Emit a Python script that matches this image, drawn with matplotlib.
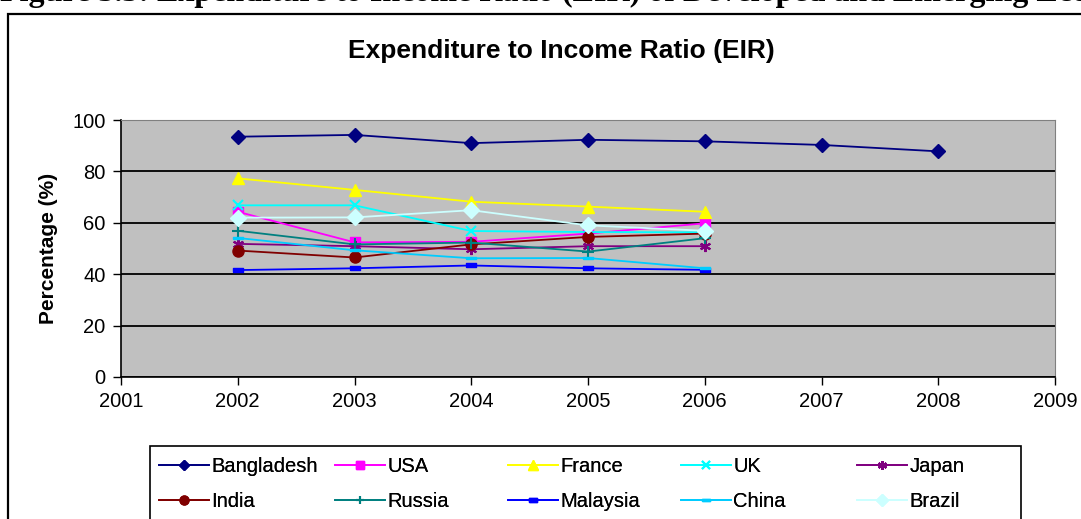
import matplotlib
matplotlib.use("Agg")
import matplotlib.pyplot as plt
from matplotlib.patches import Rectangle
from matplotlib.transforms import Bbox

plt.rcParams['font.family'] = ['Liberation Sans', 'DejaVu Sans']

# Years and country series (percentage of expenditure to income)
years_long = [2002, 2003, 2004, 2005, 2006, 2007, 2008]
years = [2002, 2003, 2004, 2005, 2006]

bangladesh = [93.5, 94.2, 91.0, 92.3, 91.7, 90.3, 87.8]
usa = [64.3, 52.4, 52.6, 55.8, 59.8]
france = [77.3, 72.8, 68.2, 66.3, 64.3]
uk = [66.8, 66.8, 56.8, 56.4, 56.3]
japan = [51.8, 50.9, 49.7, 50.9, 50.9]
india = [49.2, 46.5, 51.6, 54.5, 55.8]
russia = [56.9, 51.6, 52.3, 48.8, 54.0]
malaysia = [41.6, 42.3, 43.4, 42.3, 41.7]
china = [54.1, 49.3, 46.2, 46.3, 42.3]
brazil = [62.0, 62.1, 64.9, 59.0, 56.9]

x_ticks = [2001, 2002, 2003, 2004, 2005, 2006, 2007, 2008, 2009]
y_ticks = [0, 20, 40, 60, 80, 100]

short_dash = [(-1, -0.4), (1, -0.4), (1, 0.4), (-1, 0.4), (-1, -0.4)]
long_dash = [(-1.6, -0.4), (1.6, -0.4), (1.6, 0.4), (-1.6, 0.4), (-1.6, -0.4)]

series = [
    ("Bangladesh", years_long, bangladesh, "#000080", "D", 7, None),
    ("USA", years, usa, "#FF00FF", "s", 7, None),
    ("France", years, france, "#FFFF00", "^", 9, None),
    ("UK", years, uk, "#00FFFF", "x", 7, 1.5),
    ("Japan", years, japan, "#800080", (6, 2, 0), 8, 1.5),
    ("India", years, india, "#800000", "o", 8, None),
    ("Russia", years, russia, "#008080", "+", 8, 1.5),
    ("Malaysia", years, malaysia, "#0000FF", short_dash, 7, None),
    ("China", years, china, "#00CCFF", long_dash, 7, None),
    ("Brazil", years, brazil, "#CCFFFF", "D", 8, None),
]

W, H = 1081, 519
fig = plt.figure(figsize=(W / 100, H / 100), dpi=100)
fig.patch.set_facecolor("white")

# chart frame
fig.patches.append(Rectangle((8 / W, -0.05), 1.1, (H - 14) / H + 0.05,
                             transform=fig.transFigure, fill=False,
                             edgecolor="black", linewidth=1.6, clip_on=False))

# caption above the chart: only the lowest strip of it falls on the page
caption = fig.text(0.0, (H - 1.5) / H,
                   "Figure 3.3: Expenditure to Income Ratio (EIR) of Developed and Emerging Economies",
                   ha="left", va="baseline", fontsize=23, fontweight="bold",
                   family=["Liberation Serif", "DejaVu Serif"])
caption.set_clip_box(Bbox.from_extents(0, H - 9, W, H))
caption.set_clip_on(True)

ax = fig.add_axes([121 / W, (H - 377) / H, (1055 - 121) / W, (377 - 120) / H])
ax.set_facecolor("#C0C0C0")

handles = []
for name, xs, ys, color, marker, ms, mew in series:
    kw = dict(color=color, linewidth=1.3, marker=marker, markersize=ms,
              markerfacecolor=color, markeredgecolor=color, label=name)
    if mew is not None:
        kw["markeredgewidth"] = mew
    line, = ax.plot(xs, ys, **kw)
    handles.append(line)

ax.set_xlim(2001, 2009)
ax.set_ylim(0, 100)
ax.set_xticks(x_ticks)
ax.set_yticks(y_ticks)
ax.yaxis.grid(True, color="black", linewidth=1.3)
ax.set_axisbelow(True)
ax.tick_params(axis="both", labelsize=14.5, direction="out", length=6,
               width=1, colors="black", pad=5)
for side in ("top", "right"):
    ax.spines[side].set_color("#808080")
for side in ("left", "bottom"):
    ax.spines[side].set_color("black")
    ax.spines[side].set_linewidth(1.2)

ax.set_ylabel("Percentage (%)", fontsize=15, fontweight="bold", labelpad=10)
fig.text(561 / W, (H - 51) / H, "Expenditure to Income Ratio (EIR)", ha="center",
         va="center", fontsize=19, fontweight="bold")

# legend box with five evenly spaced columns, filled row by row
fig.patches.append(Rectangle((150 / W, -0.05), (1021 - 150) / W, (H - 446) / H + 0.05,
                             transform=fig.transFigure, fill=False,
                             edgecolor="black", linewidth=1.2, clip_on=False))
col_x = [159, 335, 508, 681, 857]
for c, x0 in enumerate(col_x):
    pair = [handles[c], handles[c + 5]]
    lg = fig.legend(pair, [h.get_label() for h in pair], loc="upper left",
                    bbox_to_anchor=(x0 / W, (H - 457) / H), ncol=1,
                    fontsize=14.5, frameon=False, handlelength=2.5,
                    handletextpad=0.1, borderpad=0, borderaxespad=0,
                    labelspacing=0.8, markerscale=0.8)
    fig.add_artist(lg)

fig.savefig("out.png", dpi=100)
